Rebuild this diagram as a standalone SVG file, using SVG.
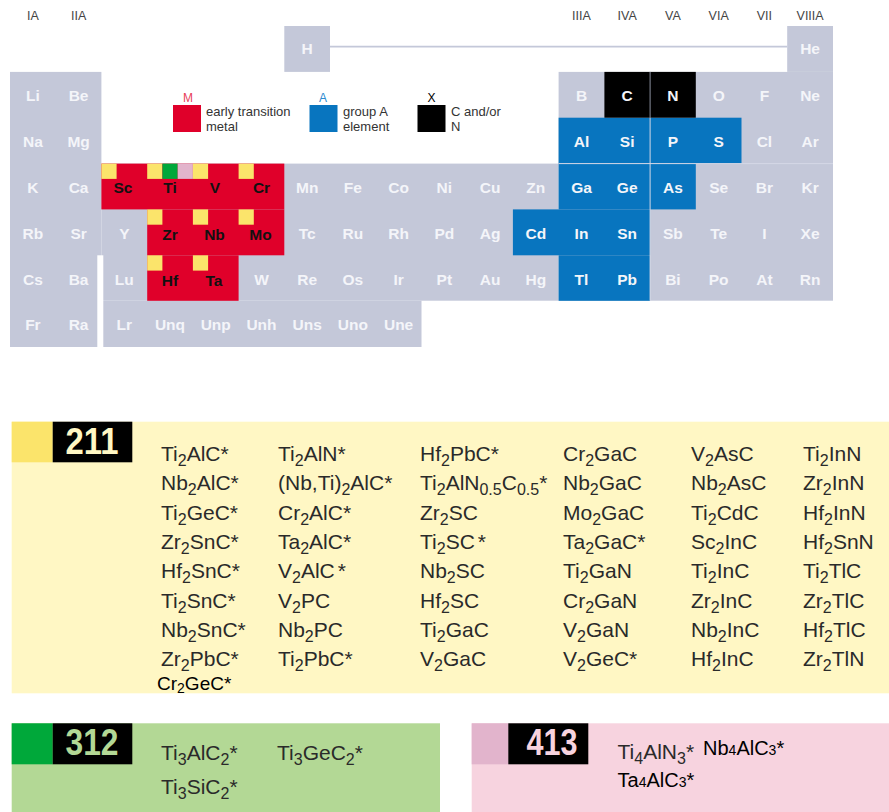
<svg xmlns="http://www.w3.org/2000/svg" width="889" height="812" viewBox="0 0 889 812">
<style>
text{font-family:'Liberation Sans',Arial,sans-serif}
.g{fill:#c4c8d9}
.r{fill:#e0002a}
.b{fill:#0875bf}
.y{fill:#fbe46b}
.e{font-size:15.5px;font-weight:bold;text-anchor:middle;fill:#f4f5f9}
.ek{font-size:15.5px;font-weight:bold;text-anchor:middle;fill:#111}
.hd{font-size:12.5px;fill:#444;text-anchor:middle}
.lg{font-size:13px;fill:#333}
.f{font-size:21px;fill:#2a2a2a}
.s{font-size:16px}
.num{font-size:37px;font-weight:bold;text-anchor:middle}
.sep{stroke:#d4d8e6;stroke-width:1}
</style>
<rect width="889" height="812" fill="#fff"/>

<g id="group-headers">
<text class="hd" x="32.9" y="20">IA</text>
<text class="hd" x="78.6" y="20">IIA</text>
<text class="hd" x="581.5" y="20">IIIA</text>
<text class="hd" x="627.2" y="20">IVA</text>
<text class="hd" x="672.9" y="20">VA</text>
<text class="hd" x="718.7" y="20">VIA</text>
<text class="hd" x="764.4" y="20">VII</text>
<text class="hd" x="810.1" y="20">VIIIA</text>
</g>

<g id="periodic-table">
<rect class="g" x="284.3" y="26" width="45.7" height="45.9"/>
<rect class="g" x="787.2" y="26" width="45.8" height="45.9"/>
<rect class="g" x="10" y="71.9" width="91.4" height="275.1"/>
<rect class="g" x="558.6" y="71.9" width="274.4" height="228.8"/>
<rect class="g" x="101.4" y="163.6" width="457.2" height="137.1"/>
<rect class="g" x="101.4" y="300.7" width="320.1" height="46.3"/>
<rect fill="#fff" x="97.3" y="255.3" width="6" height="92"/>
<line x1="330" y1="46.6" x2="787.2" y2="46.6" stroke="#c4c8d9" stroke-width="1.6"/>

<rect class="r" x="101.4" y="163.6" width="182.9" height="45.8"/>
<rect class="r" x="147.2" y="209.4" width="137.1" height="45.9"/>
<rect class="r" x="147.2" y="255.3" width="91.4" height="45.5"/>

<rect class="b" x="558.6" y="117.7" width="182.9" height="45.9"/>
<rect class="b" x="558.6" y="163.6" width="137.2" height="45.8"/>
<rect class="b" x="512.9" y="209.4" width="137.2" height="45.9"/>
<rect class="b" x="558.6" y="255.3" width="91.4" height="45.5"/>

<rect x="604.4" y="71.9" width="91.4" height="45.8" fill="#000"/>
<line x1="650.1" y1="71.9" x2="650.1" y2="117.7" stroke="#8a8f9e" stroke-width="1"/>
<line class="sep" x1="650.1" y1="117.7" x2="650.1" y2="300.7"/>
<line class="sep" x1="558.6" y1="163.6" x2="833" y2="163.6"/>

<rect class="y" x="101.4" y="163.6" width="15.2" height="15.3"/>
<rect class="y" x="147.2" y="163.6" width="15.2" height="15.3"/>
<rect fill="#00a83a" x="162.4" y="163.6" width="15.3" height="15.3"/>
<rect fill="#e2b4cc" x="177.7" y="163.6" width="15.2" height="15.3"/>
<rect class="y" x="192.9" y="163.6" width="15.2" height="15.3"/>
<rect class="y" x="238.6" y="163.6" width="15.2" height="15.3"/>
<rect class="y" x="147.2" y="209.4" width="15.2" height="15.3"/>
<rect class="y" x="192.9" y="209.4" width="15.2" height="15.3"/>
<rect class="y" x="238.6" y="209.4" width="15.2" height="15.3"/>
<rect class="y" x="147.2" y="255.3" width="15.2" height="15.3"/>
<rect class="y" x="192.9" y="255.3" width="15.2" height="15.3"/>

<text class="e" x="307.2" y="53.5">H</text>
<text class="e" x="810.1" y="54">He</text>

<text class="e" x="32.9" y="100.9">Li</text>
<text class="e" x="78.6" y="100.9">Be</text>
<text class="e" x="581.5" y="100.9">B</text>
<text class="e" x="627.2" y="100.9" fill="#fff">C</text>
<text class="e" x="672.9" y="100.9" fill="#fff">N</text>
<text class="e" x="718.7" y="100.9">O</text>
<text class="e" x="764.4" y="100.9">F</text>
<text class="e" x="810.1" y="100.9">Ne</text>

<text class="e" x="32.9" y="146.7">Na</text>
<text class="e" x="78.6" y="146.7">Mg</text>
<text class="e" x="581.5" y="146.7">Al</text>
<text class="e" x="627.2" y="146.7">Si</text>
<text class="e" x="672.9" y="146.7">P</text>
<text class="e" x="718.7" y="146.7">S</text>
<text class="e" x="764.4" y="146.7">Cl</text>
<text class="e" x="810.1" y="146.7">Ar</text>

<text class="e" x="32.9" y="192.6">K</text>
<text class="e" x="78.6" y="192.6">Ca</text>
<text class="ek" x="123" y="192.6">Sc</text>
<text class="ek" x="170" y="192.6">Ti</text>
<text class="ek" x="215" y="192.6">V</text>
<text class="ek" x="261.5" y="192.6">Cr</text>
<text class="e" x="307.2" y="192.6">Mn</text>
<text class="e" x="352.9" y="192.6">Fe</text>
<text class="e" x="398.6" y="192.6">Co</text>
<text class="e" x="444.3" y="192.6">Ni</text>
<text class="e" x="490.1" y="192.6">Cu</text>
<text class="e" x="535.8" y="192.6">Zn</text>
<text class="e" x="581.5" y="192.6">Ga</text>
<text class="e" x="627.2" y="192.6">Ge</text>
<text class="e" x="672.9" y="192.6">As</text>
<text class="e" x="718.7" y="192.6">Se</text>
<text class="e" x="764.4" y="192.6">Br</text>
<text class="e" x="810.1" y="192.6">Kr</text>

<text class="e" x="32.9" y="238.6">Rb</text>
<text class="e" x="78.6" y="238.6">Sr</text>
<text class="e" x="124.3" y="238.6">Y</text>
<text class="ek" x="170" y="239.5">Zr</text>
<text class="ek" x="214.5" y="239.5">Nb</text>
<text class="ek" x="260.5" y="239.5">Mo</text>
<text class="e" x="307.2" y="238.6">Tc</text>
<text class="e" x="352.9" y="238.6">Ru</text>
<text class="e" x="398.6" y="238.6">Rh</text>
<text class="e" x="444.3" y="238.6">Pd</text>
<text class="e" x="490.1" y="238.6">Ag</text>
<text class="e" x="535.8" y="238.6" fill="#fff">Cd</text>
<text class="e" x="581.5" y="238.6">In</text>
<text class="e" x="627.2" y="238.6">Sn</text>
<text class="e" x="672.9" y="238.6">Sb</text>
<text class="e" x="718.7" y="238.6">Te</text>
<text class="e" x="764.4" y="238.6">I</text>
<text class="e" x="810.1" y="238.6">Xe</text>

<text class="e" x="32.9" y="285">Cs</text>
<text class="e" x="78.6" y="285">Ba</text>
<text class="e" x="124.3" y="285">Lu</text>
<text class="ek" x="170" y="285.5">Hf</text>
<text class="ek" x="214" y="285.5">Ta</text>
<text class="e" x="261.5" y="285">W</text>
<text class="e" x="307.2" y="285">Re</text>
<text class="e" x="352.9" y="285">Os</text>
<text class="e" x="398.6" y="285">Ir</text>
<text class="e" x="444.3" y="285">Pt</text>
<text class="e" x="490.1" y="285">Au</text>
<text class="e" x="535.8" y="285">Hg</text>
<text class="e" x="581.5" y="285">Tl</text>
<text class="e" x="627.2" y="285">Pb</text>
<text class="e" x="672.9" y="285">Bi</text>
<text class="e" x="718.7" y="285">Po</text>
<text class="e" x="764.4" y="285">At</text>
<text class="e" x="810.1" y="285">Rn</text>

<text class="e" x="32.9" y="330">Fr</text>
<text class="e" x="78.6" y="330">Ra</text>
<text class="e" x="124.3" y="330">Lr</text>
<text class="e" x="170" y="330">Unq</text>
<text class="e" x="215.7" y="330">Unp</text>
<text class="e" x="261.5" y="330">Unh</text>
<text class="e" x="307.2" y="330">Uns</text>
<text class="e" x="352.9" y="330">Uno</text>
<text class="e" x="398.6" y="330">Une</text>
</g>

<g id="legend">
<g id="legend-M">
<rect class="r" x="173" y="105" width="28" height="27"/>
<text x="188" y="102" font-size="12" fill="#e8415a" text-anchor="middle">M</text>
<text class="lg" x="206" y="115.5">early transition</text>
<text class="lg" x="206" y="130.5">metal</text>
</g>
<g id="legend-A">
<rect class="b" x="309.5" y="105" width="28" height="27"/>
<text x="323" y="102" font-size="12" fill="#2b8ad0" text-anchor="middle">A</text>
<text class="lg" x="343" y="115.5">group A</text>
<text class="lg" x="343" y="130.5">element</text>
</g>
<g id="legend-X">
<rect x="417.5" y="105" width="28" height="27" fill="#000"/>
<text x="431.5" y="102" font-size="12" fill="#000" text-anchor="middle">X</text>
<text class="lg" x="451" y="115.5">C and/or</text>
<text class="lg" x="451" y="130.5">N</text>
</g>
</g>

<g id="box-211">
<rect x="11.7" y="421.7" width="877.3" height="271.6" fill="#fff7c4"/>
<rect class="y" x="11.7" y="421.7" width="41" height="40.6"/>
<rect x="52.7" y="421.7" width="79.6" height="40.6" fill="#000"/>
<text class="num" x="92" y="453.5" fill="#fff7c4" textLength="53" lengthAdjust="spacingAndGlyphs">211</text>

<text class="f" x="161" y="461">Ti<tspan class="s" dy="5">2</tspan><tspan dy="-5">AlC*</tspan></text>
<text class="f" x="161" y="490.3">Nb<tspan class="s" dy="5">2</tspan><tspan dy="-5">AlC*</tspan></text>
<text class="f" x="161" y="519.6">Ti<tspan class="s" dy="5">2</tspan><tspan dy="-5">GeC*</tspan></text>
<text class="f" x="161" y="548.9">Zr<tspan class="s" dy="5">2</tspan><tspan dy="-5">SnC*</tspan></text>
<text class="f" x="161" y="578.2">Hf<tspan class="s" dy="5">2</tspan><tspan dy="-5">SnC*</tspan></text>
<text class="f" x="161" y="607.5">Ti<tspan class="s" dy="5">2</tspan><tspan dy="-5">SnC*</tspan></text>
<text class="f" x="161" y="636.8">Nb<tspan class="s" dy="5">2</tspan><tspan dy="-5">SnC*</tspan></text>
<text class="f" x="161" y="666.1">Zr<tspan class="s" dy="5">2</tspan><tspan dy="-5">PbC*</tspan></text>
<text x="157" y="690" font-size="19" fill="#000">Cr<tspan font-size="14" dy="3">2</tspan><tspan dy="-3">GeC*</tspan></text>

<text class="f" x="278" y="461">Ti<tspan class="s" dy="5">2</tspan><tspan dy="-5">AlN*</tspan></text>
<text class="f" x="278" y="490.3">(Nb,Ti)<tspan class="s" dy="5">2</tspan><tspan dy="-5">AlC*</tspan></text>
<text class="f" x="278" y="519.6">Cr<tspan class="s" dy="5">2</tspan><tspan dy="-5">AlC*</tspan></text>
<text class="f" x="278" y="548.9">Ta<tspan class="s" dy="5">2</tspan><tspan dy="-5">AlC*</tspan></text>
<text class="f" x="278" y="578.2">V<tspan class="s" dy="5">2</tspan><tspan dy="-5">AlC</tspan><tspan dx="3">*</tspan></text>
<text class="f" x="278" y="607.5">V<tspan class="s" dy="5">2</tspan><tspan dy="-5">PC</tspan></text>
<text class="f" x="278" y="636.8">Nb<tspan class="s" dy="5">2</tspan><tspan dy="-5">PC</tspan></text>
<text class="f" x="278" y="666.1">Ti<tspan class="s" dy="5">2</tspan><tspan dy="-5">PbC*</tspan></text>

<text class="f" x="420" y="461">Hf<tspan class="s" dy="5">2</tspan><tspan dy="-5">PbC*</tspan></text>
<text class="f" x="420" y="490.3">Ti<tspan class="s" dy="5">2</tspan><tspan dy="-5">AlN</tspan><tspan class="s" dy="5">0.5</tspan><tspan dy="-5">C</tspan><tspan class="s" dy="5">0.5</tspan><tspan dy="-5">*</tspan></text>
<text class="f" x="420" y="519.6">Zr<tspan class="s" dy="5">2</tspan><tspan dy="-5">SC</tspan></text>
<text class="f" x="420" y="548.9">Ti<tspan class="s" dy="5">2</tspan><tspan dy="-5">SC</tspan><tspan dx="3">*</tspan></text>
<text class="f" x="420" y="578.2">Nb<tspan class="s" dy="5">2</tspan><tspan dy="-5">SC</tspan></text>
<text class="f" x="420" y="607.5">Hf<tspan class="s" dy="5">2</tspan><tspan dy="-5">SC</tspan></text>
<text class="f" x="420" y="636.8">Ti<tspan class="s" dy="5">2</tspan><tspan dy="-5">GaC</tspan></text>
<text class="f" x="420" y="666.1">V<tspan class="s" dy="5">2</tspan><tspan dy="-5">GaC</tspan></text>

<text class="f" x="563" y="461">Cr<tspan class="s" dy="5">2</tspan><tspan dy="-5">GaC</tspan></text>
<text class="f" x="563" y="490.3">Nb<tspan class="s" dy="5">2</tspan><tspan dy="-5">GaC</tspan></text>
<text class="f" x="563" y="519.6">Mo<tspan class="s" dy="5">2</tspan><tspan dy="-5">GaC</tspan></text>
<text class="f" x="563" y="548.9">Ta<tspan class="s" dy="5">2</tspan><tspan dy="-5">GaC*</tspan></text>
<text class="f" x="563" y="578.2">Ti<tspan class="s" dy="5">2</tspan><tspan dy="-5">GaN</tspan></text>
<text class="f" x="563" y="607.5">Cr<tspan class="s" dy="5">2</tspan><tspan dy="-5">GaN</tspan></text>
<text class="f" x="563" y="636.8">V<tspan class="s" dy="5">2</tspan><tspan dy="-5">GaN</tspan></text>
<text class="f" x="563" y="666.1">V<tspan class="s" dy="5">2</tspan><tspan dy="-5">GeC*</tspan></text>

<text class="f" x="691" y="461">V<tspan class="s" dy="5">2</tspan><tspan dy="-5">AsC</tspan></text>
<text class="f" x="691" y="490.3">Nb<tspan class="s" dy="5">2</tspan><tspan dy="-5">AsC</tspan></text>
<text class="f" x="691" y="519.6">Ti<tspan class="s" dy="5">2</tspan><tspan dy="-5">CdC</tspan></text>
<text class="f" x="691" y="548.9">Sc<tspan class="s" dy="5">2</tspan><tspan dy="-5">InC</tspan></text>
<text class="f" x="691" y="578.2">Ti<tspan class="s" dy="5">2</tspan><tspan dy="-5">InC</tspan></text>
<text class="f" x="691" y="607.5">Zr<tspan class="s" dy="5">2</tspan><tspan dy="-5">InC</tspan></text>
<text class="f" x="691" y="636.8">Nb<tspan class="s" dy="5">2</tspan><tspan dy="-5">InC</tspan></text>
<text class="f" x="691" y="666.1">Hf<tspan class="s" dy="5">2</tspan><tspan dy="-5">InC</tspan></text>

<text class="f" x="803" y="461">Ti<tspan class="s" dy="5">2</tspan><tspan dy="-5">InN</tspan></text>
<text class="f" x="803" y="490.3">Zr<tspan class="s" dy="5">2</tspan><tspan dy="-5">InN</tspan></text>
<text class="f" x="803" y="519.6">Hf<tspan class="s" dy="5">2</tspan><tspan dy="-5">InN</tspan></text>
<text class="f" x="803" y="548.9">Hf<tspan class="s" dy="5">2</tspan><tspan dy="-5">SnN</tspan></text>
<text class="f" x="803" y="578.2">Ti<tspan class="s" dy="5">2</tspan><tspan dy="-5">TlC</tspan></text>
<text class="f" x="803" y="607.5">Zr<tspan class="s" dy="5">2</tspan><tspan dy="-5">TlC</tspan></text>
<text class="f" x="803" y="636.8">Hf<tspan class="s" dy="5">2</tspan><tspan dy="-5">TlC</tspan></text>
<text class="f" x="803" y="666.1">Zr<tspan class="s" dy="5">2</tspan><tspan dy="-5">TlN</tspan></text>
</g>

<g id="box-312">
<rect x="11.7" y="723.3" width="428.3" height="88.7" fill="#b3d895"/>
<rect fill="#00a83a" x="11.7" y="723.3" width="41" height="41"/>
<rect x="52.7" y="723.3" width="79.6" height="41" fill="#000"/>
<text class="num" x="92" y="755.3" fill="#b3d895" textLength="53" lengthAdjust="spacingAndGlyphs">312</text>
<text class="f" x="161" y="760">Ti<tspan class="s" dy="5">3</tspan><tspan dy="-5">AlC</tspan><tspan class="s" dy="5">2</tspan><tspan dy="-5">*</tspan></text>
<text class="f" x="277" y="760">Ti<tspan class="s" dy="5">3</tspan><tspan dy="-5">GeC</tspan><tspan class="s" dy="5">2</tspan><tspan dy="-5">*</tspan></text>
<text class="f" x="161" y="794">Ti<tspan class="s" dy="5">3</tspan><tspan dy="-5">SiC</tspan><tspan class="s" dy="5">2</tspan><tspan dy="-5">*</tspan></text>
</g>

<g id="box-413">
<rect x="471.7" y="723.3" width="417.3" height="88.7" fill="#f7d3df"/>
<rect fill="#e2b4cc" x="471.7" y="723.3" width="36.6" height="41"/>
<rect x="508.3" y="723.3" width="80" height="41" fill="#000"/>
<text class="num" x="552" y="755.3" fill="#f7d3df" textLength="51" lengthAdjust="spacingAndGlyphs">413</text>
<text class="f" x="617.5" y="759" fill="#5a5a5a">Ti<tspan class="s" dy="5">4</tspan><tspan dy="-5">AlN</tspan><tspan class="s" dy="5">3</tspan><tspan dy="-5">*</tspan></text>
<text x="703" y="755" font-size="20" fill="#000">Nb<tspan font-size="14">4</tspan>AlC<tspan font-size="14">3</tspan>*</text>
<text x="617.5" y="787" font-size="20" fill="#000">Ta<tspan font-size="14">4</tspan>AlC<tspan font-size="14">3</tspan>*</text>
</g>
</svg>
